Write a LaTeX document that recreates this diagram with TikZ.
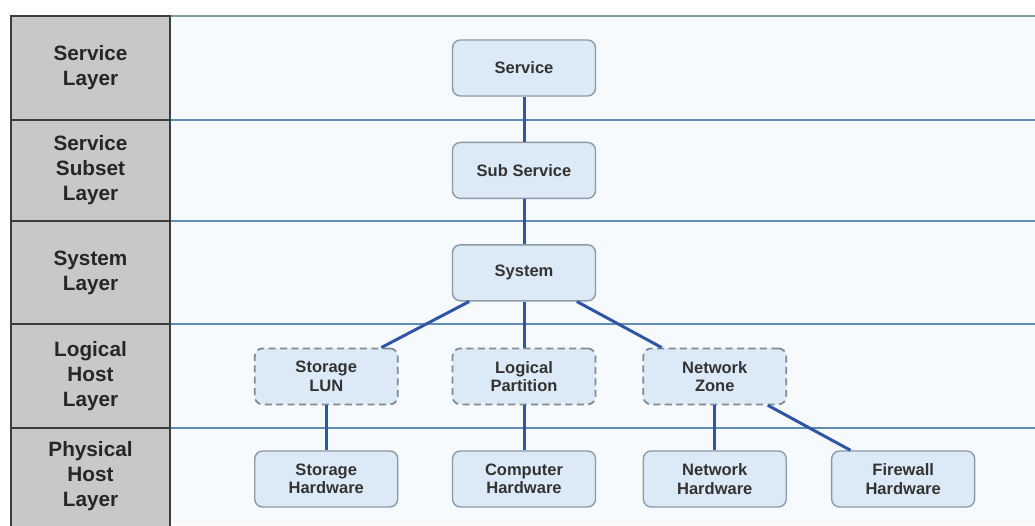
\documentclass[tikz,border=0pt]{standalone}
\usepackage{fontspec}
\setmainfont{Liberation Sans}
\usetikzlibrary{positioning}

\definecolor{cellgray}{HTML}{C8C8C8}
\definecolor{cellborder}{HTML}{3C3C3C}
\definecolor{panelfill}{HTML}{F7FAFD}
\definecolor{rowline}{HTML}{5F8DB5}
\definecolor{topline}{HTML}{7F9C9F}
\definecolor{elemfill}{HTML}{DCEAF7}
\definecolor{elemborder}{HTML}{8C99A6}
\definecolor{dashborder}{HTML}{83898F}
\definecolor{linkblue}{HTML}{2F56A6}

\tikzset{
  cell/.style={fill=cellgray, draw=cellborder, line width=1pt},
  layerlabel/.style={font=\fontsize{11.8}{14.2}\selectfont\bfseries, align=center, text=black!85},
  elem/.style={rectangle, rounded corners=4.5pt, draw=elemborder, line width=0.8pt, fill=elemfill,
    minimum width=2.86cm, minimum height=1.12cm, align=center,
    font=\fontsize{9.4}{10.4}\selectfont\bfseries, text=black!80},
  logical/.style={elem, draw=dashborder, dash pattern=on 4pt off 2.5pt, line width=1pt},
  link/.style={draw=linkblue, line width=1.7pt},
}

\begin{document}
\begin{tikzpicture}[node distance=0.9cm]
	\useasboundingbox (0,0) rectangle (20.7,10.5);
	\fill[white] (0,0) rectangle (20.7,10.5);

	% layer rows
	\fill[panelfill] (3.4,0) rectangle (20.7,10.18);
	\draw[topline, line width=1pt] (3.4,10.18) -- (20.7,10.18);
	\draw[rowline, line width=1pt] (3.4,8.10) -- (20.7,8.10);
	\draw[rowline, line width=1pt] (3.4,6.08) -- (20.7,6.08);
	\draw[rowline, line width=1pt] (3.4,4.02) -- (20.7,4.02);
	\draw[rowline, line width=1pt] (3.4,1.94) -- (20.7,1.94);

	\draw[cell] (0.22,8.10) rectangle (3.4,10.18);
	\draw[cell] (0.22,6.08) rectangle (3.4,8.10);
	\draw[cell] (0.22,4.02) rectangle (3.4,6.08);
	\draw[cell] (0.22,1.94) rectangle (3.4,4.02);
	\draw[cell] (0.22,-0.1) rectangle (3.4,1.94);

	\node (lservice) at (1.81,9.14) [layerlabel] {Service\\Layer};
	\node (lsubset) at (1.81,7.09) [layerlabel] {Service\\Subset\\Layer};
	\node (lsystem) at (1.81,5.05) [layerlabel] {System\\Layer};
	\node (llogical) at (1.81,2.98) [layerlabel] {Logical\\Host\\Layer};
	\node (lphysical) at (1.81,0.97) [layerlabel] {Physical\\Host\\Layer};

	% elements
	\node (service) at (10.48,9.14) [elem] {Service};
	\node (subservice) [below=of service, elem] {Sub Service};
	\node (system) [below=of subservice, elem] {System};

	\node (partition) [below=0.92cm of system, elem, logical] {Logical\\Partition};
	\node (lun) [left=1.06cm of partition, elem, logical] {Storage\\LUN};
	\node (zone) [right=0.92cm of partition, elem, logical] {Network\\Zone};

	\node (computer) [below=of partition, elem] {Computer\\Hardware};
	\node (storage) [below=of lun, elem] {Storage\\Hardware};
	\node (network) [below=of zone, elem] {Network\\Hardware};
	\node (firewall) [right=0.88cm of network, elem] {Firewall\\Hardware};

	\draw[link] (service) -- (subservice);
	\draw[link] (subservice) -- (system);
	\draw[link] (system) -- (lun);
	\draw[link] (system) -- (partition);
	\draw[link] (system) -- (zone);
	\draw[link] (lun) -- (storage);
	\draw[link] (partition) -- (computer);
	\draw[link] (zone) -- (network);
	\draw[link] (zone) -- (firewall);
\end{tikzpicture}
\end{document}
